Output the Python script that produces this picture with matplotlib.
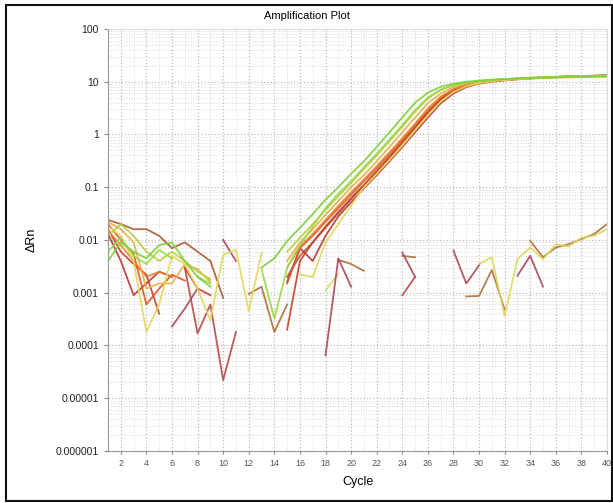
import numpy as np
import matplotlib
matplotlib.use("Agg")
import matplotlib.pyplot as plt
from matplotlib.ticker import FixedLocator, FixedFormatter, LogLocator, MultipleLocator, NullFormatter
from matplotlib.patches import Rectangle

plt.rcParams['font.family'] = ['Liberation Sans', 'DejaVu Sans']

n = np.nan
cycles = np.arange(1, 41)

# amplifying wells (delta Rn per cycle, nan = no point drawn)
w1 = [0.004, 0.009, 0.006, 0.0045, 0.008, 0.009, 0.004, 0.002, 0.0013, n, n, n, 0.003, 0.0045,
      0.0095, 0.017, 0.031, 0.058, 0.10, 0.18, 0.31, 0.58, 1.1, 2.1, 4.0, 6.2, 8.0, 9.2, 10.0,
      10.5, 10.9, 11.2, 11.5, 11.7, 11.9, 12.1, 12.2, 12.4, 12.5, 12.6]
w2 = [0.006, 0.011, 0.005, 0.0035, 0.0065, 0.0045, n, 0.002, 0.0015, n, n, n, 0.0028, 0.00032,
      0.003, 0.008, 0.018, 0.040, 0.075, 0.13, 0.24, 0.43, 0.80, 1.5, 2.9, 5.0, 7.1, 8.6, 9.6,
      10.3, 10.8, 11.2, 11.5, 11.8, 12.0, 12.2, 12.4, 12.5, 12.6, 12.8]
w3 = [0.012, 0.02, 0.012, 0.006, 0.004, 0.006, 0.004, 0.0025, 0.0018, n, n, n, n, n,
      0.006, 0.011, 0.02, 0.037, 0.068, 0.12, 0.22, 0.40, 0.75, 1.4, 2.7, 4.8, 7.0, 8.6, 9.6,
      10.3, 10.8, 11.2, 11.6, 11.9, 12.2, 12.4, 12.6, 12.8, 12.9, 13.0]
w4 = [0.018, 0.012, 0.004, 0.00018, 0.0006, 0.005, 0.0035, 0.0012, 0.0003, 0.0052, 0.0065, 0.00045, 0.0056, n,
      n, 0.0022, 0.002, 0.009, 0.02, 0.045, 0.10, 0.18, 0.33, 0.62, 1.2, 2.3, 4.2, 6.4, 8.2,
      9.4, 10.2, 10.7, 11.1, 11.4, 11.7, 11.9, 12.1, 12.2, 12.3, 12.4]
w5 = [0.022, 0.016, 0.009, 0.0012, 0.0015, 0.0015, 0.0035, 0.0028, 0.0016, n, n, n, n, n,
      0.004, 0.009, 0.016, 0.030, 0.055, 0.10, 0.17, 0.31, 0.58, 1.1, 2.1, 3.9, 6.0, 7.9, 9.2,
      10.0, 10.6, 11.0, 11.4, 11.7, 12.0, 12.2, 12.4, 12.6, 12.8, 13.0]
w6 = [0.015, 0.008, 0.004, 0.002, 0.0025, 0.002, n, n, n, n, n, n, n, n,
      0.003, 0.0075, 0.013, 0.024, 0.044, 0.08, 0.14, 0.25, 0.46, 0.85, 1.6, 3.1, 5.2, 7.3, 8.8,
      9.8, 10.5, 11.0, 11.4, 11.8, 12.1, 12.4, 12.6, 12.8, 13.0, 13.1]
w7 = [0.02, 0.01, 0.0055, 0.0006, 0.0012, 0.0022, 0.0017, n, n, n, n, n, n, n,
      0.0015, 0.007, 0.012, 0.022, 0.040, 0.072, 0.13, 0.23, 0.42, 0.78, 1.5, 2.9, 5.0, 7.1, 8.7,
      9.7, 10.4, 10.9, 11.3, 11.7, 12.0, 12.3, 12.5, 12.7, 12.9, 13.0]
w8 = [0.016, 0.006, 0.0035, 0.0022, 0.0004, n, 0.003, 0.0012, 0.0009, n, n, n, n, n,
      0.0002, 0.004, 0.009, 0.018, 0.034, 0.062, 0.11, 0.20, 0.37, 0.70, 1.35, 2.6, 4.6, 6.8, 8.5,
      9.6, 10.3, 10.8, 11.2, 11.6, 11.9, 12.2, 12.4, 12.6, 12.8, 12.9]
w9 = [0.013, 0.004, 0.0009, 0.0015, 0.0025, 0.002, n, n, n, n, n, n, n, n,
      0.0016, 0.007, 0.004, 0.012, 0.028, 0.052, 0.095, 0.17, 0.31, 0.58, 1.1, 2.1, 3.9, 6.0, 7.9,
      9.2, 10.0, 10.6, 11.1, 11.5, 11.9, 12.2, 12.5, 12.7, 12.9, 13.1]
w10 = [0.024, 0.02, 0.016, 0.016, 0.012, 0.007, 0.009, 0.006, 0.004, 0.0008, n, n, n, n,
       0.002, 0.005, 0.009, 0.017, 0.032, 0.060, 0.11, 0.20, 0.37, 0.70, 1.35, 2.6, 4.6, 6.8, 8.5,
       9.6, 10.4, 10.9, 11.3, 11.7, 12.0, 12.3, 12.6, 12.8, 13.0, 13.2]

# non-amplifying wells (fragments only)
n1 = [n, n, n, n, n, 0.00023, 0.0005, 0.0012, n, 0.01, 0.004, n, n, n, n, n, n, 6.5e-5, 0.0045, 0.0013,
      n, n, n, 0.0058, 0.002, n, n, 0.0063, 0.0015, 0.0033, n, n, 0.0021, 0.005, 0.0013, n, n, n, n, n]
n2 = [n, n, n, n, n, n, 0.003, 0.00017, 0.0006, 2.2e-5, 1.8e-4, n, n, n, n, n, n, n, n, n,
      n, n, n, 0.00089, 0.002, n, n, n, n, n, n, n, n, n, n, n, n, n, n, n]
n3 = [n, n, n, n, n, n, n, n, n, n, n, 0.00095, 0.0013, 0.00018, 0.0006, n, n, n, 0.0042, 0.0035,
      0.0026, n, n, 0.005, 0.0047, n, n, n, 0.00085, 0.00087, 0.0027, 0.00048, n, 0.0096, 0.0047,
      0.0072, 0.0083, 0.0104, 0.013, 0.02]
n4 = [n, n, n, n, n, n, n, n, n, n, n, n, n, n, n, n, n, 0.0011, 0.0023, n,
      n, n, n, n, n, n, n, n, n, 0.0035, 0.0047, 0.00036, 0.0043, 0.0072, 0.0043, 0.0083, 0.0075,
      0.011, 0.012, 0.016]

wells = [n3, n4, n1, n2, w10, w9, w8, w7, w6, w5, w4, w3, w2, w1]
colors = ['#b0703a', '#dcd860', '#a8485a', '#b84848', '#a85a34', '#b83830', '#c84028',
          '#dc5828', '#e8802e', '#ecae48', '#e4d85a', '#b8cc40', '#9ad848', '#7fcf3a']

yticks = [1e-6, 1e-5, 1e-4, 1e-3, 1e-2, 1e-1, 1, 10, 100]
ylabels = ['0.000001', '0.00001', '0.0001', '0.001', '0.01', '0.1', '1', '10', '100']
xticks = list(range(2, 41, 2))

fig = plt.figure(figsize=(6.13, 5.03), dpi=100)
ax = fig.add_axes([0.1762, 0.1034, 0.814, 0.839])

for vals, col in zip(wells, colors):
    ax.plot(cycles, vals, color=col, lw=1.3, alpha=0.9)

ax.set_yscale('log')
ax.set_xlim(1, 40)
ax.set_ylim(1e-6, 100)
ax.yaxis.set_major_locator(FixedLocator(yticks))
ax.yaxis.set_major_formatter(FixedFormatter(ylabels))
ax.yaxis.set_minor_locator(LogLocator(base=10, subs=np.arange(2, 10)))
ax.yaxis.set_minor_formatter(NullFormatter())
ax.set_xticks(xticks)
ax.xaxis.set_minor_locator(MultipleLocator(1))

ax.tick_params(axis='y', which='major', labelsize=7.5, length=3, color='#888888', labelcolor='#222222')
ax.tick_params(axis='x', which='major', labelsize=6.5, length=2, color='#888888', labelcolor='#555555')
ax.tick_params(which='minor', length=0)

ax.grid(which='major', ls=':', color='#bdbdbd', lw=0.9)
ax.grid(which='minor', ls=':', color='#dadada', lw=0.7)
ax.set_axisbelow(True)

for side in ['left', 'bottom']:
    ax.spines[side].set_color('#999999')
for side in ['top', 'right']:
    ax.spines[side].set_color('#dddddd')

fig.text(0.5, 1 - 16 / 503, 'Amplification Plot', ha='center', va='center', fontsize=8)
fig.text(32 / 613, 1 - 240 / 503, 'ΔRn', ha='center', va='center', rotation=90, fontsize=9)
fig.text(358 / 613, 1 - 482 / 503, 'Cycle', ha='center', va='center', fontsize=9)

fig.patches.append(Rectangle((0.0098, 0.003), 0.988, 0.987, transform=fig.transFigure,
                             fill=False, edgecolor='#111111', lw=1.5))

fig.savefig('out.png', dpi=100)
